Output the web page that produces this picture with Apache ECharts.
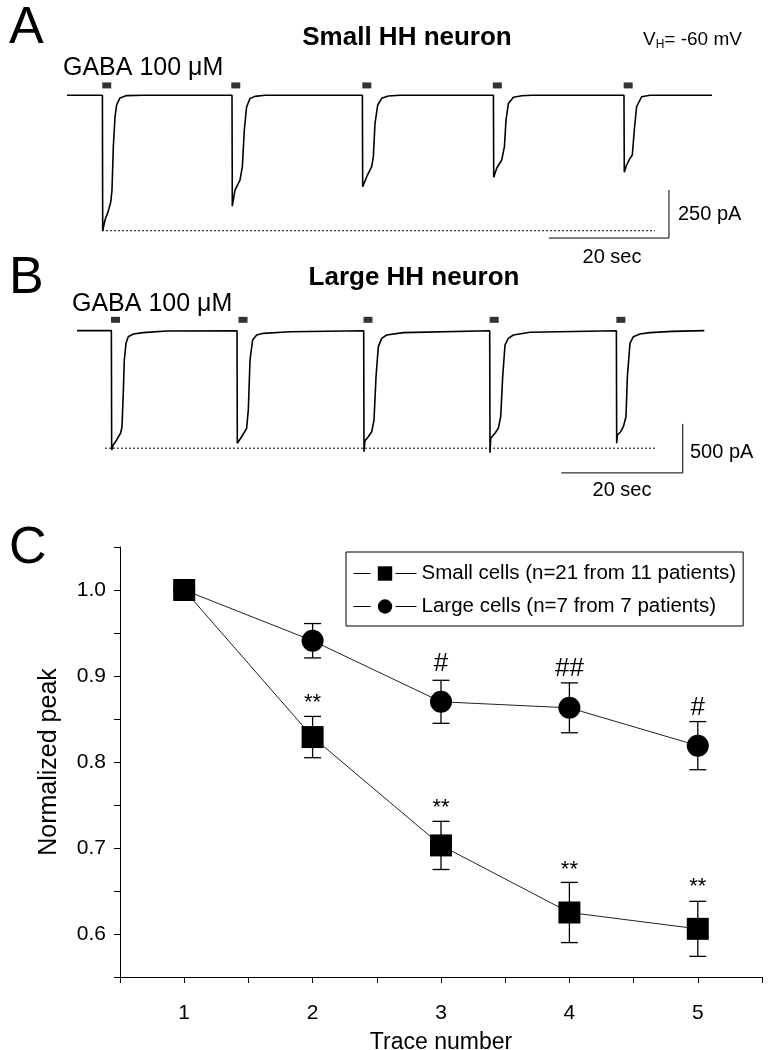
<!DOCTYPE html>
<html><head><meta charset="utf-8">
<script src="https://cdn.jsdelivr.net/npm/echarts@6/dist/echarts.min.js"></script>
<style>html,body{margin:0;padding:0;background:#fff}#c{width:777px;height:1050px}</style>
</head><body><div id="c"></div>
<script>
const FONT = '"Liberation Sans", Arial, sans-serif';

// ---- Panel A: small HH neuron, whole-cell current [time (s), current (pA)]
const traceA = [
  [0,0],[5.9,0],[5.95,-705],[6.05,-705],[6.33,-649],[6.88,-603],[7.28,-557],[7.5,-494],[7.72,-268],[8.0,-113],[8.28,-49],[8.83,-14],[9.95,-2],[12.6,0],
  [27.5,0],[27.55,-577],[28.0,-494],[28.83,-442],[29.22,-373],[29.55,-182],[29.93,-61],[30.5,-17],[31.33,-6],[33.0,0],
  [49.23,0],[49.28,-476],[49.95,-424],[50.78,-371],[51.06,-319],[51.33,-148],[51.78,-51],[52.45,-16],[53.56,-4],[55.5,0],
  [71.07,0],[71.12,-427],[71.62,-380],[72.45,-337],[72.9,-269],[73.17,-128],[73.57,-43],[74.4,-11],[75.8,-3],[77.5,0],
  [92.83,0],[92.88,-401],[93.27,-363],[93.83,-329],[94.22,-311],[94.55,-181],[94.93,-60],[95.77,-8],[97.17,0],[107.5,0]
];
// ---- Panel B: large HH neuron
const traceB = [
  [0,0],[5.66,0],[5.71,-1218],[5.97,-1167],[6.53,-1116],[7.19,-1045],[7.41,-981],[7.62,-640],[7.79,-300],[8.07,-130],[8.44,-62],[9.27,-35],[10.91,-21],[14.77,-4],
  [26.35,-1],[26.4,-1150],[27.11,-1083],[27.93,-997],[28.21,-810],[28.49,-300],[28.92,-96],[29.58,-45],[30.68,-28],[35.08,-11],
  [47.21,-1],[47.26,-1235],[47.42,-1123],[47.97,-1083],[48.53,-1032],[48.91,-912],[49.24,-470],[49.62,-164],[50.17,-79],[51.0,-45],[53.73,-21],
  [67.96,-1],[68.01,-1246],[68.13,-1099],[68.83,-1048],[69.38,-997],[69.77,-879],[70.1,-470],[70.48,-147],[71.02,-79],[71.85,-45],[74.6,-17],
  [88.82,-1],[88.87,-1150],[88.99,-1065],[89.53,-1032],[89.97,-981],[90.4,-879],[90.63,-470],[91.06,-130],[91.62,-62],[92.71,-35],[94.35,-21],[98,-8],[103.3,0]
];
// GABA application marks [time (s), level (pA)]
const gabaA = [[6.62,51],[28.13,51],[49.97,51],[71.72,51],[93.53,51]];
const gabaB = [[6.34,110],[27.34,110],[47.92,110],[68.7,110],[89.56,110]];
// dotted reference at first peak
const peakRefA = [[5.83,-705],[98,-705]];
const peakRefB = [[4.6,-1200],[95.4,-1200]];
// scale bars: 20 s / 250 pA and 20 s / 500 pA
const scaleBarA = [[80.33,-743],[100.33,-743],[100.33,-493]];
const scaleBarB = [[79.75,-1452],[99.75,-1452],[99.75,-952]];

// ---- Panel C
const traceNumbers = [1,2,3,4,5];
const smallMean = [1.000, 0.829, 0.703, 0.625, 0.606];
const smallErr  = [0, 0.024, 0.028, 0.035, 0.032];
const largeMean = [1.000, 0.941, 0.870, 0.863, 0.819];
const largeErr  = [0, 0.020, 0.025, 0.029, 0.028];
const smallMarkY = [null, 0.875, 0.752, 0.680, 0.660];
const smallMarkText = ['', '**', '**', '**', '**'];
const largeMarkY = [null, null, 0.917, 0.911, 0.865];
const largeMarkText = ['', '', '#', '##', '#'];
const smallName = 'Small cells (n=21 from 11 patients)';
const largeName = 'Large cells (n=7 from 7 patients)';

const chart = echarts.init(document.getElementById('c'), null, {renderer:'canvas'});

function txt(x, y, text, size, opts) {
  opts = opts || {};
  return {type:'text', x:x, y:y, silent:true, style:Object.assign({
    text:text, fill:'#000', font: (opts.bold?'bold ':'') + size + 'px ' + FONT,
    textAlign: opts.align || 'left', textVerticalAlign:'middle'}, opts.style||{})};
}

function errorBars(mean, err) {
  return {
    type:'custom', xAxisIndex:2, yAxisIndex:2, z:1, silent:true,
    encode:{x:0, y:1},
    data: traceNumbers.map((x,i)=>[x, mean[i], err[i]]),
    renderItem(params, api) {
      const x = api.value(0), m = api.value(1), e = api.value(2);
      if (!e) return null;
      const t = api.coord([x, m+e]), b = api.coord([x, m-e]);
      const hw = 8.5, st = {stroke:'#000', lineWidth:1.3};
      return {type:'group', children:[
        {type:'line', shape:{x1:t[0],y1:t[1],x2:b[0],y2:b[1]}, style:st},
        {type:'line', shape:{x1:t[0]-hw,y1:t[1],x2:t[0]+hw,y2:t[1]}, style:st},
        {type:'line', shape:{x1:b[0]-hw,y1:b[1],x2:b[0]+hw,y2:b[1]}, style:st}
      ]};
    }
  };
}

function marks(ys, texts, size, dy) {
  return {
    type:'scatter', xAxisIndex:2, yAxisIndex:2, silent:true, symbolSize:1,
    itemStyle:{opacity:0},
    data: traceNumbers.map((x,i)=> ys[i]==null ? null : {value:[x, ys[i]], name:texts[i]}).filter(d=>d),
    label:{show:true, position:'inside', formatter:p=>p.name, color:'#000',
      fontFamily:FONT, fontSize:size, offset:[0,dy], opacity:1}
  };
}

const traceLine = {width:1.6, color:'#000'};
const option = {
  animation:false,
  backgroundColor:'#fff',
  grid:[
    {left:67, top:76, width:660, height:173, outerBoundsMode:'none', containLabel:false},
    {left:77, top:311, width:668, height:166.6, outerBoundsMode:'none', containLabel:false},
    {left:120, right:15, top:547, bottom:73, outerBoundsMode:'none', containLabel:false}
  ],
  xAxis:[
    {gridIndex:0, type:'value', min:0, max:110, show:false},
    {gridIndex:1, type:'value', min:0, max:110, show:false},
    {gridIndex:2, type:'value', min:0.5, max:5.5, interval:0.5,
      name:'Trace number', nameLocation:'middle', nameGap:54,
      nameTextStyle:{fontFamily:FONT, fontSize:23, color:'#000'},
      axisLine:{onZero:false, lineStyle:{color:'#000', width:1}},
      axisTick:{show:true, inside:false, length:6, lineStyle:{color:'#000'}},
      axisLabel:{margin:26, fontFamily:FONT, fontSize:21, color:'#000',
        formatter:v=> Number.isInteger(v) ? String(v) : ''},
      splitLine:{show:false}}
  ],
  yAxis:[
    {gridIndex:0, type:'value', min:-800, max:100, show:false},
    {gridIndex:1, type:'value', min:-1500, max:200, show:false},
    {gridIndex:2, type:'value', min:0.55, max:1.05, interval:0.05,
      name:'Normalized peak', nameLocation:'middle', nameGap:58,
      nameTextStyle:{fontFamily:FONT, fontSize:25, color:'#000'},
      axisLine:{onZero:false, lineStyle:{color:'#000', width:1}},
      axisTick:{show:true, inside:false, length:6, lineStyle:{color:'#000'}},
      axisLabel:{margin:14, fontFamily:FONT, fontSize:21, color:'#000',
        formatter:v=> (Math.abs(v*10 - Math.round(v*10)) < 1e-6 && v < 1.04) ? v.toFixed(1) : ''},
      splitLine:{show:false}}
  ],
  legend:{
    orient:'vertical', left:346, top:552, padding:[11,7,9,7], itemGap:12,
    itemWidth:63, itemHeight:18, borderColor:'#000', borderWidth:1,
    textStyle:{fontFamily:FONT, fontSize:20.5, color:'#000'},
    lineStyle:{type:[17,25,21,10], width:1, color:'#000'},
    data:[smallName, largeName]
  },
  series:[
    {type:'line', xAxisIndex:0, yAxisIndex:0, data:traceA, showSymbol:false, lineStyle:traceLine, silent:true},
    {type:'line', xAxisIndex:1, yAxisIndex:1, data:traceB, showSymbol:false, lineStyle:traceLine, silent:true},
    {type:'scatter', xAxisIndex:0, yAxisIndex:0, data:gabaA, symbol:'rect', symbolSize:[9,6], itemStyle:{color:'#000'}, silent:true},
    {type:'scatter', xAxisIndex:1, yAxisIndex:1, data:gabaB, symbol:'rect', symbolSize:[9,6], itemStyle:{color:'#000'}, silent:true},
    {type:'line', xAxisIndex:0, yAxisIndex:0, data:peakRefA, showSymbol:false, lineStyle:{width:1, color:'#000', type:[2,2]}, silent:true},
    {type:'line', xAxisIndex:1, yAxisIndex:1, data:peakRefB, showSymbol:false, lineStyle:{width:1, color:'#000', type:[2,2]}, silent:true},
    {type:'line', xAxisIndex:0, yAxisIndex:0, data:scaleBarA, showSymbol:false, lineStyle:{width:1, color:'#000'}, silent:true},
    {type:'line', xAxisIndex:1, yAxisIndex:1, data:scaleBarB, showSymbol:false, lineStyle:{width:1, color:'#000'}, silent:true},
    errorBars(smallMean, smallErr),
    errorBars(largeMean, largeErr),
    {type:'line', name:smallName, xAxisIndex:2, yAxisIndex:2, z:3,
      data:traceNumbers.map((x,i)=>[x, smallMean[i]]),
      symbol:'rect', symbolSize:22, showSymbol:true, itemStyle:{color:'#000'},
      lineStyle:{width:1, color:'#222'}},
    {type:'line', name:largeName, xAxisIndex:2, yAxisIndex:2, z:3,
      data:traceNumbers.map((x,i)=>[x, largeMean[i]]),
      symbol:'circle', symbolSize:22, showSymbol:true, itemStyle:{color:'#000'},
      lineStyle:{width:1, color:'#222'}},
    marks(smallMarkY, smallMarkText, 22, 5),
    marks(largeMarkY, largeMarkText, 26, 2)
  ],
  graphic:[
    txt(9, 29, 'A', 52),
    txt(9, 279, 'B', 52),
    txt(9, 549, 'C', 52),
    txt(407, 38, 'Small HH neuron', 26, {bold:true, align:'center'}),
    txt(414, 278, 'Large HH neuron', 26, {bold:true, align:'center'}),
    txt(63, 68, 'GABA 100 \u03bcM', 25),
    txt(72, 304, 'GABA 100 \u03bcM', 25),
    {type:'text', x:643, y:40, silent:true, style:{
      text:'{v|V}{s|H}{v|= -60 mV}', textVerticalAlign:'middle',
      rich:{v:{fontFamily:FONT, fontSize:19, fill:'#000'}, s:{fontFamily:FONT, fontSize:12, fill:'#000', padding:[9,0,0,0]}}}},
    txt(678, 214, '250 pA', 20),
    txt(612, 257, '20 sec', 20, {align:'center'}),
    txt(690, 452, '500 pA', 20),
    txt(622, 490, '20 sec', 20, {align:'center'})
  ]
};
chart.setOption(option);
</script>
</body></html>
